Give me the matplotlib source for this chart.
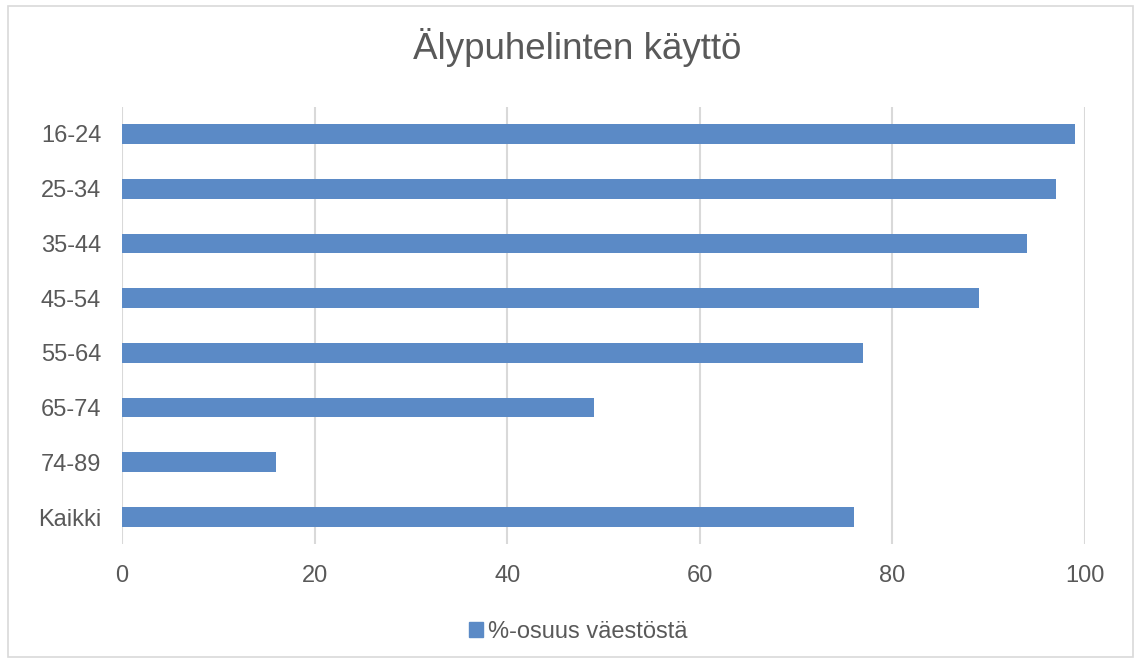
import matplotlib
matplotlib.use("Agg")
import matplotlib.pyplot as plt
from matplotlib.patches import Rectangle, Patch

categories = ["16-24", "25-34", "35-44", "45-54", "55-64", "65-74", "74-89", "Kaikki"]
values = [99, 97, 94, 89, 77, 49, 16, 76]
series_name = "%-osuus väestöstä"
title = "Älypuhelinten käyttö"

bar_color = "#5B8AC6"
text_color = "#595959"
grid_color = "#D9D9D9"

plt.rcParams["font.family"] = ["Liberation Sans", "DejaVu Sans"]

fig = plt.figure(figsize=(11.41, 6.64), dpi=100)
ax = fig.add_axes([0.1069, 0.1801, 0.9509 - 0.1069, 0.8395 - 0.1801])

ypos = list(range(len(categories)))
ax.barh(ypos, values, height=0.36, color=bar_color, zorder=3)
ax.set_yticks(ypos)
ax.set_yticklabels(categories)
ax.set_ylim(len(categories) - 0.5, -0.5)
ax.set_xlim(0, 100)
ax.set_xticks(range(0, 101, 20))

ax.grid(axis="x", color=grid_color, linewidth=1.5, zorder=0)
for s in ax.spines.values():
    s.set_visible(False)
ax.tick_params(axis="both", length=0, labelsize=17, colors=text_color)
ax.tick_params(axis="y", pad=15)
ax.tick_params(axis="x", pad=15)

fig.text(0.5055, 0.928, title, ha="center", va="center", fontsize=26.5, color=text_color)

fig.legend(handles=[Patch(color=bar_color, label=series_name)], loc="center",
           bbox_to_anchor=(0.507, 0.048), frameon=False, fontsize=17,
           labelcolor=text_color, handlelength=0.6, handleheight=0.6, handletextpad=0.2)

fig.patches.append(Rectangle((8 / 1141, 1 - 657 / 664), 1125 / 1141, 651 / 664,
                             transform=fig.transFigure, fill=False,
                             edgecolor=grid_color, linewidth=1.2))

fig.savefig("out.png", dpi=100)
